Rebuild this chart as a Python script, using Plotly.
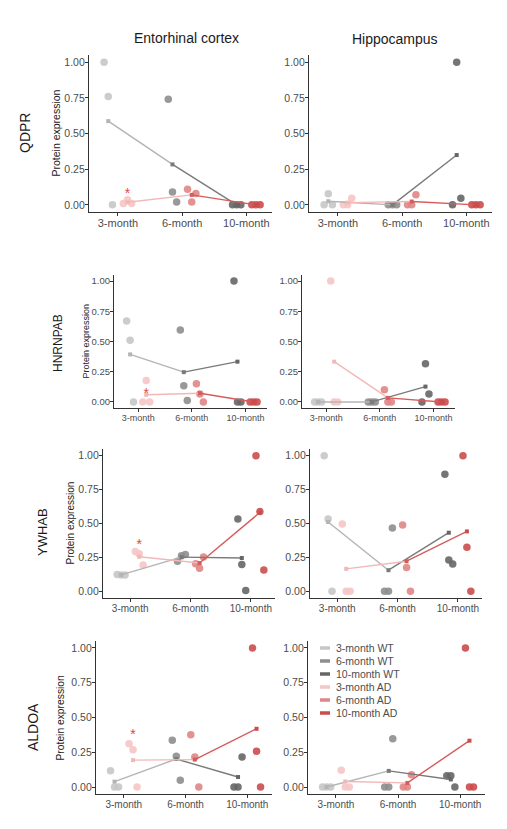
import plotly.graph_objects as go

# categories / labels
ages = ["3-month", "6-month", "10-month"]
genes = ["QDPR", "HNRNPAB", "YWHAB", "ALDOA"]
regions = ["Entorhinal cortex", "Hippocampus"]
legend_labels = ["3-month WT", "6-month WT", "10-month WT",
                 "3-month AD", "6-month AD", "10-month AD"]

# protein expression, 3 replicates per age (3-, 6-, 10-month)
qdpr_ec_wt = [[1.00, 0.76, 0.00], [0.74, 0.09, 0.02], [0.00, 0.00, 0.00]]
qdpr_ec_ad = [[0.01, 0.035, 0.01], [0.11, 0.02, 0.08], [0.00, 0.00, 0.00]]
qdpr_hc_wt = [[0.00, 0.077, 0.00], [0.00, 0.00, 0.00], [0.00, 1.00, 0.047]]
qdpr_hc_ad = [[0.00, 0.00, 0.047], [0.00, 0.00, 0.07], [0.00, 0.00, 0.00]]

hnrnpab_ec_wt = [[0.67, 0.51, 0.00], [0.595, 0.134, 0.011], [1.00, 0.00, 0.00]]
hnrnpab_ec_ad = [[0.00, 0.178, 0.00], [0.15, 0.066, 0.00], [0.00, 0.00, 0.00]]
hnrnpab_hc_wt = [[0.00, 0.00, 0.00], [0.00, 0.00, 0.00], [0.00, 0.315, 0.066]]
hnrnpab_hc_ad = [[1.00, 0.00, 0.00], [0.10, 0.00, 0.00], [0.00, 0.00, 0.00]]

ywhab_ec_wt = [[0.123, 0.119, 0.119], [0.222, 0.262, 0.272], [0.533, 0.198, 0.005]]
ywhab_ec_ad = [[0.294, 0.277, 0.193], [0.202, 0.17, 0.252], [1.00, 0.588, 0.156]]
ywhab_hc_wt = [[1.00, 0.533, 0.00], [0.00, 0.00, 0.466], [0.864, 0.231, 0.201]]
ywhab_hc_ad = [[0.496, 0.00, 0.00], [0.489, 0.176, 0.00], [1.00, 0.325, 0.00]]

aldoa_ec_wt = [[0.117, 0.00, 0.00], [0.336, 0.221, 0.048], [0.00, 0.00, 0.216]]
aldoa_ec_ad = [[0.312, 0.269, 0.00], [0.376, 0.216, 0.00], [1.00, 0.257, 0.00]]
aldoa_hc_wt = [[0.00, 0.00, 0.00], [0.00, 0.00, 0.348], [0.082, 0.082, 0.00]]
aldoa_hc_ad = [[0.12, 0.00, 0.00], [0.00, 0.00, 0.089], [1.00, 0.00, 0.00]]

# significance star (3-month AD vs WT, entorhinal cortex), height per gene
star_y = [0.12, 0.12, 0.39, 0.42]

panels = [
    [(qdpr_ec_wt, qdpr_ec_ad), (qdpr_hc_wt, qdpr_hc_ad)],
    [(hnrnpab_ec_wt, hnrnpab_ec_ad), (hnrnpab_hc_wt, hnrnpab_hc_ad)],
    [(ywhab_ec_wt, ywhab_ec_ad), (ywhab_hc_wt, ywhab_hc_ad)],
    [(aldoa_ec_wt, aldoa_ec_ad), (aldoa_hc_wt, aldoa_hc_ad)],
]

wt_colors = ["#c6c6c6", "#8e8e8e", "#666666"]
ad_colors = ["#f6c5c5", "#e08686", "#cb4c4c"]
wt_line = ["#b4b4b4", "#7a7a7a"]
ad_line = ["#f2b8b8", "#d65c5c"]

W, H = 507, 829
PAD = 8  # page body margin around the plot div
FW, FH = W - 2 * PAD, H - 2 * PAD


def px(x):
    return (x - PAD) / FW


def py(y):
    return 1 - (y - PAD) / FH


# panel boxes in page pixels: rows (top, bottom), columns (left, right)
row_px = [(55, 212), (275, 408), (449, 598), (641, 794)]
col_px = [[(89, 272), (309, 492)],
          [(114, 267), (302, 455)],
          [(103, 275), (310, 482)],
          [(96, 272), (308, 485)]]
xtick_size = [11, 9, 10, 10]
ytick_size = [10.5, 9.5, 10.5, 10.5]
gene_size = [14, 12, 13, 14]
ytitle_size = [10.5, 9, 10, 10.3]
gene_px = [(25, 133), (58, 343), (42, 532), (33, 727)]
ytitle_px = [55, 85, 70, 60]

dodge = 0.15
spread = [-0.065, 0.0, 0.065]
font = "Liberation Sans"

fig = go.Figure()
layout = {}
annotations = []
shapes = []


def label(text, x, y, size, color="#1a1a1a", angle=0, xanchor="center"):
    annotations.append(dict(text=text, x=x, y=y, xref="paper", yref="paper",
                            xanchor=xanchor, yanchor="middle", showarrow=False,
                            textangle=angle,
                            font=dict(family=font, size=size, color=color)))


for r in range(4):
    for c in range(2):
        k = r * 2 + c + 1
        xa = "x" if k == 1 else f"x{k}"
        ya = "y" if k == 1 else f"y{k}"
        wt, ad = panels[r][c]
        for grp, sign, cols in ((wt, -1, wt_colors), (ad, 1, ad_colors)):
            for i, vals in enumerate(grp):
                fig.add_trace(go.Scatter(
                    x=[i + 1 + sign * dodge + spread[j] for j in range(len(vals))],
                    y=vals, mode="markers", xaxis=xa, yaxis=ya,
                    marker=dict(size=7.5, color=cols[i], opacity=0.9),
                    showlegend=False, hoverinfo="skip"))
        for grp, sign, cols, lcols in ((wt, -1, wt_colors, wt_line),
                                       (ad, 1, ad_colors, ad_line)):
            means = [sum(v) / len(v) for v in grp]
            xs = [i + 1 + sign * dodge for i in range(3)]
            for i in range(2):
                fig.add_trace(go.Scatter(
                    x=xs[i:i + 2], y=means[i:i + 2], mode="lines",
                    xaxis=xa, yaxis=ya, line=dict(color=lcols[i], width=1.4),
                    showlegend=False, hoverinfo="skip"))
            fig.add_trace(go.Scatter(
                x=xs, y=means, mode="markers", xaxis=xa, yaxis=ya,
                marker=dict(symbol="square", size=4, color=[lcols[0], lcols[1], cols[2]]),
                showlegend=False, hoverinfo="skip"))
        if c == 0:
            # significance star, drawn as a text mark
            fig.add_trace(go.Scatter(
                x=[1 + dodge], y=[star_y[r]], mode="text", text=["*"],
                textposition="bottom center", xaxis=xa, yaxis=ya,
                textfont=dict(family=font, size=14, color="#e04848"),
                showlegend=False, hoverinfo="skip"))

        x0, x1 = col_px[r][c]
        y0, y1 = row_px[r]
        axis_common = dict(showline=True, linecolor="#333333", linewidth=1.2,
                           ticks="outside", ticklen=3, tickcolor="#333333",
                           showgrid=False, zeroline=False, ticklabelstandoff=-2)
        layout["xaxis" if k == 1 else f"xaxis{k}"] = dict(
            axis_common, domain=[px(x0), px(x1)], range=[0.55, 3.4],
            tickvals=[1, 2, 3], ticktext=ages, anchor=ya,
            tickfont=dict(family=font, size=xtick_size[r], color="#4d4d4d"))
        layout["yaxis" if k == 1 else f"yaxis{k}"] = dict(
            axis_common, domain=[py(y1), py(y0)], range=[-0.05, 1.05],
            tickvals=[0, 0.25, 0.5, 0.75, 1.0], tickformat=".2f", anchor=xa,
            tickfont=dict(family=font, size=ytick_size[r], color="#4d4d4d"))

    y0, y1 = row_px[r]
    label("Protein expression", px(ytitle_px[r]), py((y0 + y1) / 2), ytitle_size[r],
          color="#222222", angle=-90)
    gx, gy = gene_px[r]
    label(genes[r], px(gx), py(gy), gene_size[r], angle=-90)

for reg, (tx, ty) in zip(regions, [(186, 38), (395, 39)]):
    label(reg, px(tx), py(ty), 14)

# legend drawn inside the bottom-right panel
leg_colors = wt_colors + ad_colors
for i, lab in enumerate(legend_labels):
    ly = 648 + i * 13
    shapes.append(dict(type="line", xref="paper", yref="paper",
                       x0=px(320), x1=px(330), y0=py(ly), y1=py(ly),
                       line=dict(color=leg_colors[i], width=3.5)))
    label(lab, px(334), py(ly), 10.5, color="#4d4d4d", xanchor="left")

fig.update_layout(**layout)
fig.update_layout(width=FW, height=FH, margin=dict(l=0, r=0, t=0, b=0),
                  plot_bgcolor="white", paper_bgcolor="white",
                  annotations=annotations, shapes=shapes, showlegend=False)
fig.write_html("out.html")
